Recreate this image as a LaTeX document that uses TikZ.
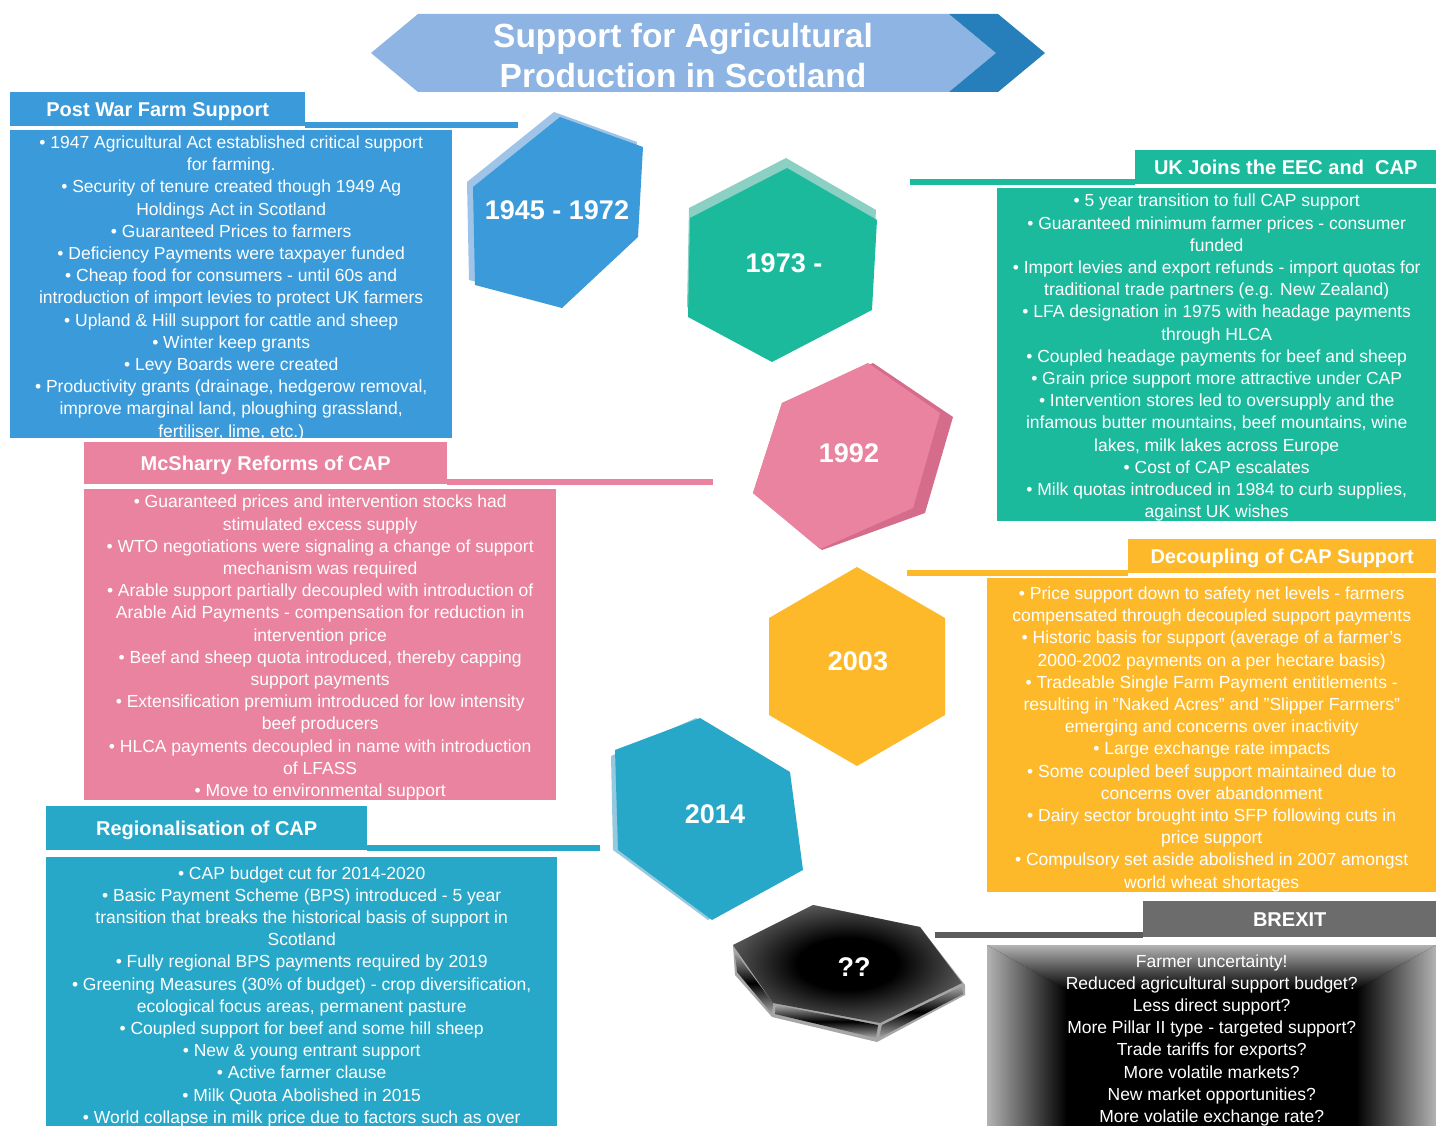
\documentclass[tikz,border=0pt]{standalone}
\usepackage{fontspec}
\setmainfont{Liberation Sans}
\usepackage{tikz}
\usetikzlibrary{positioning,calc}

\definecolor{titlelight}{RGB}{141,180,226}
\definecolor{titledark}{RGB}{38,126,186}
\definecolor{postwar}{RGB}{59,155,218}
\definecolor{postwarrim}{RGB}{160,196,232}
\definecolor{eec}{RGB}{27,186,157}
\definecolor{eecrim}{RGB}{140,208,196}
\definecolor{mcsharry}{RGB}{233,131,160}
\definecolor{mcsharryside}{RGB}{214,108,140}
\definecolor{decoupling}{RGB}{253,185,42}
\definecolor{regional}{RGB}{39,168,200}
\definecolor{regionalrim}{RGB}{150,200,222}
\definecolor{brexitgrey}{RGB}{108,108,108}

\tikzstyle{tab}=[shape=rectangle, anchor=north west, inner sep=0pt,
        text=white, text height=14.4pt, text depth=0pt,
        font=\fontsize{20}{24}\selectfont\bfseries]
\tikzstyle{body}=[shape=rectangle, anchor=north west, inner sep=0pt]
\tikzstyle{bodytext}=[text=white, align=center, inner sep=0pt,
        font=\fontsize{17.5}{22.2}\selectfont]
\tikzstyle{bar}=[-, line width=6pt]
\tikzstyle{year}=[text=white, inner sep=0pt,
        font=\fontsize{27}{30}\selectfont\bfseries]

\pgfdeclareradialshading{hexglow}{\pgfpoint{0bp}{0bp}}{color(0bp)=(black);
        color(11bp)=(black); color(36bp)=(gray!85); color(50bp)=(gray!85)}

\begin{document}
\begin{tikzpicture}[x=1pt, y=-1pt]
    \useasboundingbox (0,0) rectangle (1436,1126);
    \clip (0,0) rectangle (1436,1126);
    \fill [white] (0,0) rectangle (1436,1126);

    % title banner
    \fill [titlelight] (371,53) -- (418,14) -- (949,14) -- (996,53) -- (949,92) -- (418,92) -- cycle;
    \fill [titledark] (949,14) -- (998,14) -- (1045,53) -- (998,92) -- (949,92) -- (996,53) -- cycle;
    \node [text=white, align=center, inner sep=0pt,
        font=\fontsize{33.5}{40}\selectfont\bfseries] (0) at (683,56)
        {Support for Agricultural\\Production in Scotland};

    % hexagons
    \fill [postwarrim] (554,112) -- (637,142) -- (632,232) -- (556,303) -- (469,280) -- (467,182) -- cycle;
    \fill [postwar] (560,117) -- (643,147) -- (638,237) -- (562,308) -- (475,285) -- (473,187) -- cycle;
    \node [style=year] (3) at (557,210) {1945 - 1972};

    \fill [eecrim] (786,158) -- (876,210) -- (871,300) -- (771,352) -- (687,307) -- (689,208) -- cycle;
    \fill [eec] (787,168) -- (877,220) -- (872,310) -- (772,362) -- (688,317) -- (690,218) -- cycle;
    \node [style=year] (6) at (784,263) {1973 -};

    \fill [mcsharryside] (873,363) -- (953,417) -- (925,513) -- (822,550) -- (753,493) -- (782,403) -- cycle;
    \fill [mcsharry] (868,363) -- (940,413) -- (913,508) -- (820,549) -- (753,493) -- (782,403) -- cycle;
    \node [style=year] (9) at (849,453) {1992};

    \fill [decoupling] (857,567) -- (945,618) -- (945,715) -- (857,766) -- (769,715) -- (769,618) -- cycle;
    \node [style=year] (12) at (858,661) {2003};

    \fill [regionalrim] (696,718) -- (786,772) -- (799,870) -- (708,920) -- (613,850) -- (611,756) -- cycle;
    \fill [regional] (700,718) -- (790,772) -- (803,870) -- (712,920) -- (618,850) -- (615,750) -- cycle;
    \node [style=year] (15) at (715,814) {2014};

    \fill [gray!70] (733,945) -- (813,905) -- (920,927) -- (965,985) -- (965,995) -- (877,1042) -- (772,1017) -- (735,975) -- cycle;
    \shade [top color=gray!70, bottom color=gray!70, middle color=black] (735,952) -- (773,1003) -- (772,1014) -- (737,972) -- cycle;
    \shade [top color=gray!70, bottom color=gray!70, middle color=black] (776,1005) -- (878,1025) -- (876,1038) -- (775,1014) -- cycle;
    \shade [top color=gray!70, bottom color=gray!70, middle color=black] (882,1025) -- (962,986) -- (963,994) -- (879,1038) -- cycle;
    \shade [shading=hexglow] (813,905) -- (920,927) -- (962,983) -- (880,1023) -- (773,1003) -- (733,945) -- cycle;
    \node [style=year] (18) at (854,967) {??};

    % post war
    \node [style=tab, fill=postwar, minimum width=295, minimum height=34] (1) at (10,92) {Post War Farm Support};
    \coordinate (c1) at (518,125);
    \draw [style=bar, draw=postwar] (1.south east |- c1) -- (c1);
    \node [style=body, fill=postwar, minimum width=442, minimum height=308] (2) at (10,130) {};
    \node [style=bodytext] (2t) at ([yshift=-4pt]2.center)
        {\textbullet\ 1947 Agricultural Act established critical support\\
        for farming.\\
        \textbullet\ Security of tenure created though 1949 Ag\\
        Holdings Act in Scotland\\
        \textbullet\ Guaranteed Prices to farmers\\
        \textbullet\ Deficiency Payments were taxpayer funded\\
        \textbullet\ Cheap food for consumers - until 60s and\\
        introduction of import levies to protect UK farmers\\
        \textbullet\ Upland \& Hill support for cattle and sheep\\
        \textbullet\ Winter keep grants\\
        \textbullet\ Levy Boards were created\\
        \textbullet\ Productivity grants (drainage, hedgerow removal,\\
        improve marginal land, ploughing grassland,\\
        fertiliser, lime, etc.)};

    % uk joins
    \node [style=tab, fill=eec, minimum width=301, minimum height=34] (4) at (1135,150) {UK Joins the EEC and\ \ CAP};
    \coordinate (c4) at (910,182);
    \draw [style=bar, draw=eec] (c4) -- (4.south west |- c4);
    \node [style=body, fill=eec, minimum width=439, minimum height=333] (5) at (997,188) {};
    \node [style=bodytext] (5t) at ([yshift=-3pt]5.center)
        {\textbullet\ 5 year transition to full CAP support\\
        \textbullet\ Guaranteed minimum farmer prices - consumer\\
        funded\\
        \textbullet\ Import levies and export refunds - import quotas for\\
        traditional trade partners (e.g. New Zealand)\\
        \textbullet\ LFA designation in 1975 with headage payments\\
        through HLCA\\
        \textbullet\ Coupled headage payments for beef and sheep\\
        \textbullet\ Grain price support more attractive under CAP\\
        \textbullet\ Intervention stores led to oversupply and the\\
        infamous butter mountains, beef mountains, wine\\
        lakes, milk lakes across Europe\\
        \textbullet\ Cost of CAP escalates\\
        \textbullet\ Milk quotas introduced in 1984 to curb supplies,\\
        against UK wishes};

    % mcsharry
    \node [style=tab, fill=mcsharry, minimum width=363, minimum height=42] (7) at (84,442) {McSharry Reforms of CAP};
    \coordinate (c7) at (713,482);
    \draw [style=bar, draw=mcsharry] (7.south east |- c7) -- (c7);
    \node [style=body, fill=mcsharry, minimum width=472, minimum height=311] (8) at (84,489) {};
    \node [style=bodytext] (8t) at ([yshift=-3pt]8.center)
        {\textbullet\ Guaranteed prices and intervention stocks had\\
        stimulated excess supply\\
        \textbullet\ WTO negotiations were signaling a change of support\\
        mechanism was required\\
        \textbullet\ Arable support partially decoupled with introduction of\\
        Arable Aid Payments - compensation for reduction in\\
        intervention price\\
        \textbullet\ Beef and sheep quota introduced, thereby capping\\
        support payments\\
        \textbullet\ Extensification premium introduced for low intensity\\
        beef producers\\
        \textbullet\ HLCA payments decoupled in name with introduction\\
        of LFASS\\
        \textbullet\ Move to environmental support};

    % decoupling
    \node [style=tab, fill=decoupling, minimum width=308, minimum height=34] (10) at (1128,539) {Decoupling of CAP Support};
    \coordinate (c10) at (907,573);
    \draw [style=bar, draw=decoupling] (c10) -- (10.south west |- c10);
    \node [style=body, fill=decoupling, minimum width=449, minimum height=314] (11) at (987,578) {};
    \node [style=bodytext] (11t) at ([yshift=-4pt]11.center)
        {\textbullet\ Price support down to safety net levels - farmers\\
        compensated through decoupled support payments\\
        \textbullet\ Historic basis for support (average of a farmer's\\
        2000-2002 payments on a per hectare basis)\\
        \textbullet\ Tradeable Single Farm Payment entitlements -\\
        resulting in "Naked Acres" and "Slipper Farmers"\\
        emerging and concerns over inactivity\\
        \textbullet\ Large exchange rate impacts\\
        \textbullet\ Some coupled beef support maintained due to\\
        concerns over abandonment\\
        \textbullet\ Dairy sector brought into SFP following cuts in\\
        price support\\
        \textbullet\ Compulsory set aside abolished in 2007 amongst\\
        world wheat shortages};

    % regionalisation
    \node [style=tab, fill=regional, minimum width=321, minimum height=44] (13) at (46,806) {Regionalisation of CAP};
    \coordinate (c13) at (600,848);
    \draw [style=bar, draw=regional] (13.south east |- c13) -- (c13);
    \node [style=body, fill=regional, minimum width=511, minimum height=277] (14) at (46,857) {};
    \node [style=bodytext] (14t) at ([yshift=-1pt]14.center)
        {\textbullet\ CAP budget cut for 2014-2020\\
        \textbullet\ Basic Payment Scheme (BPS) introduced - 5 year\\
        transition that breaks the historical basis of support in\\
        Scotland\\
        \textbullet\ Fully regional BPS payments required by 2019\\
        \textbullet\ Greening Measures (30\% of budget) - crop diversification,\\
        ecological focus areas, permanent pasture\\
        \textbullet\ Coupled support for beef and some hill sheep\\
        \textbullet\ New \& young entrant support\\
        \textbullet\ Active farmer clause\\
        \textbullet\ Milk Quota Abolished in 2015\\
        \textbullet\ World collapse in milk price due to factors such as over};

    % brexit
    \node [style=tab, fill=brexitgrey, minimum width=293, minimum height=36] (16) at (1143,901) {BREXIT};
    \coordinate (c16) at (935,935);
    \draw [style=bar, draw=brexitgrey!85!black] (c16) -- (16.south west |- c16);
    \fill [black] (987,945) rectangle (1436,1133);
    \shade [top color=gray!60, bottom color=black] (987,945) -- (1436,945) -- (1356,990) -- (1067,990) -- cycle;
    \shade [left color=gray!60, right color=black] (987,945) -- (1067,990) -- (1067,1133) -- (987,1133) -- cycle;
    \shade [left color=black, right color=gray!60] (1436,945) -- (1356,990) -- (1356,1133) -- (1436,1133) -- cycle;
    \node [style=body, minimum width=449, minimum height=188] (17) at (987,945) {};
    \node [style=bodytext] (17t) at ([yshift=-1pt]17.center)
        {Farmer uncertainty!\\
        Reduced agricultural support budget?\\
        Less direct support?\\
        More Pillar II type - targeted support?\\
        Trade tariffs for exports?\\
        More volatile markets?\\
        New market opportunities?\\
        More volatile exchange rate?};
\end{tikzpicture}
\end{document}
